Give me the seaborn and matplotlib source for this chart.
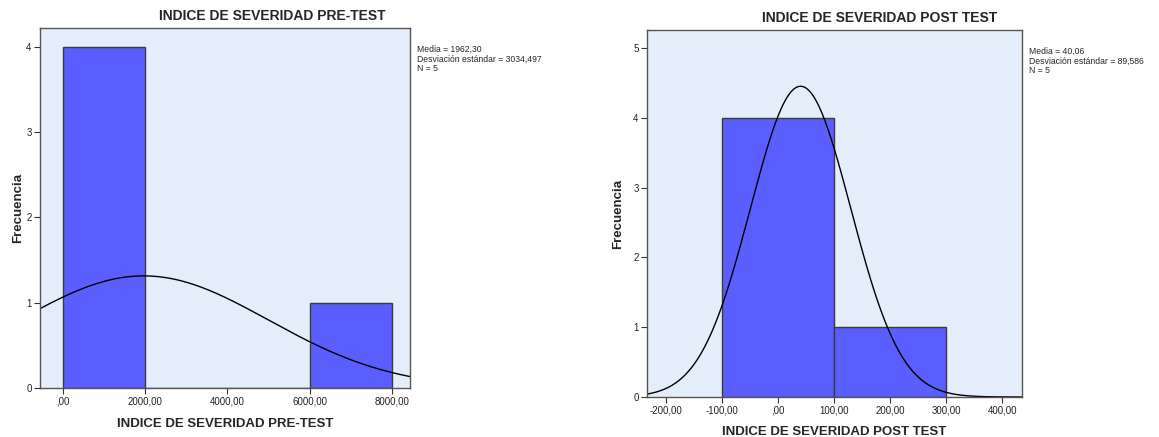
import numpy as np
import pandas as pd
import matplotlib
matplotlib.use('Agg')
import matplotlib.pyplot as plt
import seaborn as sns
from matplotlib.ticker import FixedLocator, FuncFormatter

# histogram data
pre_edges = [0, 2000, 4000, 6000, 8000]
pre_counts = [4, 0, 0, 1]
pre_mean = 1962.30
pre_sd = 3034.497
pre_n = 5
pre_xticks = [0, 2000, 4000, 6000, 8000]
pre_yticks = [0, 1, 2, 3, 4]

post_edges = [-100, 100, 300]
post_counts = [4, 1]
post_mean = 40.06
post_sd = 89.586
post_n = 5
post_xticks = [-200, -100, 0, 100, 200, 300, 400]
post_yticks = [0, 1, 2, 3, 4, 5]

pre_title = 'INDICE DE SEVERIDAD PRE-TEST'
post_title = 'INDICE DE SEVERIDAD POST TEST'

sns.set_style('white')
plt.rcParams['font.family'] = ['Liberation Sans', 'DejaVu Sans']

bar_color = '#5b5eff'
bg_color = '#e3eefa'
edge_color = '#3a3a3a'


def fmt_es(v, pos=None):
    s = '%.2f' % v
    s = s.replace('.', ',')
    if s.startswith('0,'):
        s = s[1:]
    elif s.startswith('-0,'):
        s = '-' + s[2:]
    return s


def draw_panel(ax, edges, counts, mean, sd, n, xlim, ylim, xticks, yticks, xlabel, ylab_x):
    centers = [(a + b) / 2 for a, b in zip(edges[:-1], edges[1:])]
    df = pd.DataFrame({'x': centers, 'w': counts})
    ax.set_facecolor(bg_color)
    sns.histplot(data=df, x='x', weights='w', bins=edges, ax=ax,
                 color=bar_color, alpha=1, edgecolor=edge_color, linewidth=1)
    # normal curve scaled to counts, as SPSS draws it
    xs = np.linspace(xlim[0], xlim[1], 400)
    width = edges[1] - edges[0]
    ys = n * width * np.exp(-0.5 * ((xs - mean) / sd) ** 2) / (sd * np.sqrt(2 * np.pi))
    sns.lineplot(x=xs, y=ys, ax=ax, color='black', linewidth=1)
    ax.set_xlim(*xlim)
    ax.set_ylim(*ylim)
    ax.xaxis.set_major_locator(FixedLocator(xticks))
    ax.xaxis.set_major_formatter(FuncFormatter(fmt_es))
    ax.yaxis.set_major_locator(FixedLocator(yticks))
    ax.tick_params(axis='both', which='major', bottom=True, left=True, length=4,
                   width=0.8, color='#333333', labelsize=7, labelcolor='#222222', pad=2)
    for sp in ax.spines.values():
        sp.set_color('#555555')
        sp.set_linewidth(1)
    ax.set_xlabel(xlabel, fontsize=9.5, fontweight='bold', labelpad=8)
    ax.set_ylabel('Frecuencia', fontsize=9.5, fontweight='bold')
    ax.yaxis.set_label_coords(ylab_x, 0.5)


fig = plt.figure(figsize=(11.59, 4.37), dpi=100)
ax1 = fig.add_axes([0.0345, 0.112, 0.3193, 0.824])
ax2 = fig.add_axes([0.5582, 0.0915, 0.3236, 0.840])

draw_panel(ax1, pre_edges, pre_counts, pre_mean, pre_sd, pre_n,
           (-560, 8440), (0, 4.22), pre_xticks, pre_yticks, pre_title, -0.043)
draw_panel(ax2, post_edges, post_counts, post_mean, post_sd, post_n,
           (-234, 435), (0, 5.26), post_xticks, post_yticks, post_title, -0.062)

fig.text(272 / 1159, 1 - 16 / 437, pre_title, ha='center', va='center',
         fontsize=10, fontweight='bold')
fig.text(880 / 1159, 1 - 18 / 437, post_title, ha='center', va='center',
         fontsize=10, fontweight='bold')

pre_stats = 'Media = %s\nDesviación estándar = %s\nN = %d' % (
    '1962,30', '3034,497', pre_n)
post_stats = 'Media = %s\nDesviación estándar = %s\nN = %d' % (
    '40,06', '89,586', post_n)
fig.text(417 / 1159, 1 - 45 / 437, pre_stats, ha='left', va='top',
         fontsize=6.2, linespacing=1.05)
fig.text(1029 / 1159, 1 - 47 / 437, post_stats, ha='left', va='top',
         fontsize=6.2, linespacing=1.05)

fig.savefig('out.png', dpi=100)
